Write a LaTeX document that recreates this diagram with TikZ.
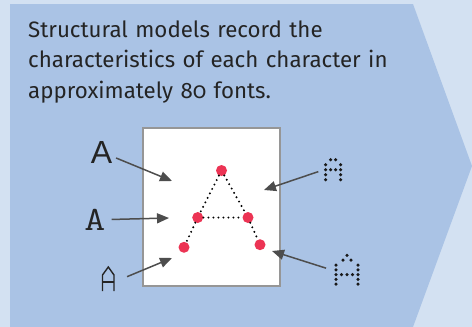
\documentclass[tikz,border=0pt]{standalone}
\usepackage{fontspec}
\usepackage{graphicx}
\setmainfont{Fira Sans}[Numbers=OldStyle]
\newfontfamily\glyphsans{Liberation Sans}
\usetikzlibrary{arrows.meta}

\definecolor{bgblue}{RGB}{211,225,242}
\definecolor{panelblue}{RGB}{170,195,229}
\definecolor{dotred}{RGB}{236,52,84}
\definecolor{arrowgray}{RGB}{77,77,77}
\definecolor{inkgray}{RGB}{36,36,36}
\definecolor{framegray}{RGB}{150,150,150}

\tikzset{
  pointer/.style={draw=arrowgray, line width=1.5pt, -{Triangle[length=12pt,width=10pt]}},
  keypoint/.style={circle, fill=dotred, inner sep=0pt, minimum size=11pt},
  stroke/.style={line width=2.2pt, line cap=round, dash pattern=on 0pt off 5pt},
  pixel/.style={circle, fill=black!90, inner sep=0pt, minimum size=3.5pt},
  glyphbox/.style={inner sep=0pt}
}

\begin{document}
\begin{tikzpicture}[x=1pt, y=-1pt]

  % Background and the chevron panel
  \useasboundingbox (0,0) rectangle (472,327);
  \fill[bgblue] (0,0) rectangle (472,327);
  \fill[panelblue] (10,4) -- (413,4) -- (472,166) -- (413,327) -- (10,327) -- cycle;

  % Caption
  \node[anchor=base west, inner sep=0pt, text width=430pt, align=left, text=inkgray,
        font=\fontsize{22.3}{30.5}\selectfont] (caption) at (28,37.3)
    {Structural models record the\\
     characteristics of each character in\\
     approximately 80 fonts.};

  % White canvas holding the skeleton
  \node[draw=framegray, line width=1.8pt, fill=white, minimum width=137pt,
        minimum height=158pt] (canvas) at (211.5,207) {};

  % Key points of the letter
  \node[keypoint] (apex)  at (221.5,170.5) {};
  \node[keypoint] (midL)  at (197.7,217.5) {};
  \node[keypoint] (midR)  at (248,217.5) {};
  \node[keypoint] (footL) at (184,247.3) {};
  \node[keypoint] (footR) at (260,244.7) {};

  % Strokes between the key points
  \draw[stroke] (apex) -- (midL);
  \draw[stroke] (apex) -- (midR);
  \draw[stroke] (midL) -- (midR);
  \draw[stroke] (midL) -- (footL);
  \draw[stroke] (midR) -- (footR);

  % Sample letters on the left
  \node[glyphbox, anchor=base, text=inkgray, font=\glyphsans\fontsize{32}{32}\selectfont]
    (sansA) at (101.5,163) {A};
  \node[glyphbox, anchor=base, text=inkgray, font=\ttfamily\fontsize{34}{34}\selectfont]
    (monoA) at (95,230.5) {\scalebox{1.2}[1]{A}};
  \node[glyphbox, minimum width=26pt, minimum height=25pt] (pointA) at (108.3,279) {};
  \draw[inkgray, line width=1.4pt] (102.5,291) -- (102.5,275) -- (108.3,267)
    -- (114,275) -- (114,291);
  \draw[inkgray, line width=1.4pt] (102.5,282) -- (114,282);

  % Dot-matrix letters on the right
  \node[glyphbox, minimum width=18pt, minimum height=23pt] (smallpixA) at (333.2,169.7) {};
  \foreach \i/\j in {1/0,2/0,0/1,3/1,0/2,1/2,2/2,3/2,0/3,3/3,0/4,3/4}
    \node[pixel] at (325.7+5*\i,159.7+5*\j) {};
  \node[glyphbox, minimum width=30pt, minimum height=32pt] (largepixA) at (347,270) {};
  \foreach \px/\py in {347/255.3,343/260,351/260,
      336/265,336/269.75,336/274.5,336/279.25,336/284,
      358/265,358/269.75,358/274.5,358/279.25,358/284,
      341.5/274.5,347/274.5,352.5/274.5}
    \node[pixel] at (\px,\py) {};

  % Arrow targets inside the canvas
  \coordinate (sansT) at (172,181);
  \coordinate (monoT) at (169,218);
  \coordinate (pointT) at (172,258);
  \coordinate (smallT) at (264,190);
  \coordinate (largeT) at (272,251);

  % Arrows
  \draw[pointer, shorten <=4pt] (sansA) -- (sansT);
  \draw[pointer, shorten <=6pt] (monoA) -- (monoT);
  \draw[pointer, shorten <=6pt] (pointA.east) -- (pointT);
  \draw[pointer, shorten <=6pt] (smallpixA.west) -- (smallT);
  \draw[pointer, shorten <=6pt] (largepixA.west) -- (largeT);

\end{tikzpicture}
\end{document}
